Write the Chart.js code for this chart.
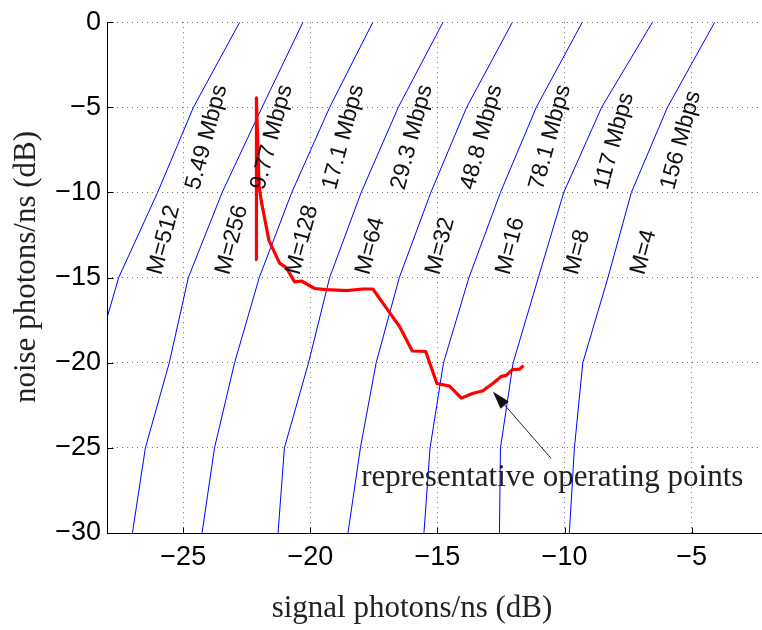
<!DOCTYPE html>
<html lang="en">
<head>
<meta charset="UTF-8">
<title>Operating points vs. signal and noise photons</title>
<script src="https://cdn.jsdelivr.net/npm/chart.js"></script>
<style>
  html, body { margin: 0; padding: 0; background: #fff; }
  #wrap { width: 762px; height: 630px; }
</style>
</head>
<body>
<div id="wrap"><canvas id="chart" width="762" height="630"></canvas></div>
<script>
// noise level (dB) at which every constant-rate curve was sampled
const curveNoise = [0, -5, -10, -15, -20, -25, -30];
// signal level (dB) along each curve, one list per PPM order
const curveM512 = [-22.78, -24.60, -26.01, -27.54, -28.51];
const curveM256 = [-20.29, -21.90, -23.47, -24.80, -25.55, -26.49, -27.00];
const curveM128 = [-17.54, -19.24, -20.73, -22.01, -22.98, -23.77, -24.26];
const curveM64  = [-14.78, -16.54, -18.00, -19.24, -20.07, -21.02, -21.27];
const curveM32  = [-12.05, -13.85, -15.26, -16.50, -17.41, -18.03, -18.52];
const curveM16  = [ -9.30, -11.11, -12.52, -13.76, -14.76, -15.29, -15.53];
const curveM8   = [ -6.54,  -8.54, -10.03, -11.03, -12.02, -12.52, -12.56];
const curveM4   = [ -4.09,  -5.95,  -7.37,  -8.29,  -9.28,  -9.61,  -9.81];
const curves = [curveM512, curveM256, curveM128, curveM64, curveM32, curveM16, curveM8, curveM4];

// representative operating points (red trace)
const opSignal = [-22.10, -22.12, -22.06, -22.02, -21.93, -21.63, -21.21, -20.94, -20.62, -20.35,
                  -19.83, -19.37, -18.58, -17.93, -17.54, -16.95, -16.49, -15.99, -15.46, -15.02,
                  -14.52, -14.06, -13.60, -13.23, -12.82, -12.48, -12.29, -12.05, -11.76, -11.61];
const opNoise  = [-13.95,  -4.45,  -7.50,  -9.56, -10.51, -12.81, -14.15, -14.43, -15.25, -15.20,
                  -15.64, -15.71, -15.77, -15.67, -15.67, -16.91, -17.87, -19.31, -19.34, -21.22,
                  -21.37, -22.08, -21.79, -21.66, -21.22, -20.80, -20.74, -20.41, -20.37, -20.17];

// curve annotations
const rateLabels  = ['5.49 Mbps', '9.77 Mbps', '17.1 Mbps', '29.3 Mbps', '48.8 Mbps', '78.1 Mbps', '117 Mbps', '156 Mbps'];
const rateAtX     = [-24.62, -22.06, -19.24, -16.55, -13.80, -11.11, -8.55, -5.93];
const rateAtY     = -9.8;
const orderLabels = ['M=512', 'M=256', 'M=128', 'M=64', 'M=32', 'M=16', 'M=8', 'M=4'];
const orderAtX    = [-26.12, -23.44, -20.68, -17.93, -15.18, -12.42, -9.73, -7.11];
const orderAtY    = -14.8;

const noteText  = 'representative operating points';
const noteAt    = [-18.0, -27.24];
const arrowFrom = [-10.53, -25.61];
const arrowTo   = [-12.82, -21.69];

const xTicks = [-25, -20, -15, -10, -5];
const yTicks = [-30, -25, -20, -15, -10, -5, 0];

const SANS = "'Liberation Sans', Arial, sans-serif";
const SERIF = "'Liberation Serif', 'Times New Roman', serif";

function minus(v) { return String(v).replace('-', '\u2212'); }

const datasets = [{
    label: 'operating points',
    data: opSignal.map((x, i) => ({ x: x, y: opNoise[i] })),
    borderColor: '#ff0000',
    borderWidth: 3.2,
    pointRadius: 0,
    borderJoinStyle: 'round'
}];
curves.forEach((xs, k) => {
    datasets.push({
        label: orderLabels[k],
        data: xs.map((x, i) => ({ x: x, y: curveNoise[i] })),
        borderColor: '#0000ff',
        borderWidth: 1,
        pointRadius: 0
    });
});

const decor = {
    id: 'decor',
    afterDatasetsDraw(chart) {
        const ctx = chart.ctx, xs = chart.scales.x, ys = chart.scales.y;
        const area = chart.chartArea;
        ctx.save();
        ctx.fillStyle = '#111';
        ctx.font = '23px ' + SANS;
        ctx.textAlign = 'left';
        ctx.textBaseline = 'middle';
        const ang = -75 * Math.PI / 180;
        const put = (txt, x, y) => {
            ctx.save();
            ctx.translate(xs.getPixelForValue(x), ys.getPixelForValue(y));
            ctx.rotate(ang);
            ctx.fillText(txt, 0, 0);
            ctx.restore();
        };
        rateLabels.forEach((t, i) => put(t, rateAtX[i], rateAtY));
        orderLabels.forEach((t, i) => put(t, orderAtX[i], orderAtY));

        // annotation + arrow
        ctx.font = '31px ' + SERIF;
        ctx.textBaseline = 'alphabetic';
        ctx.fillStyle = '#222';
        ctx.fillText(noteText, xs.getPixelForValue(noteAt[0]), ys.getPixelForValue(noteAt[1]));
        const x0 = xs.getPixelForValue(arrowFrom[0]), y0 = ys.getPixelForValue(arrowFrom[1]);
        const x1 = xs.getPixelForValue(arrowTo[0]), y1 = ys.getPixelForValue(arrowTo[1]);
        const a = Math.atan2(y1 - y0, x1 - x0);
        const hl = 18, hw = 5.5;
        const bx = x1 - hl * Math.cos(a), by = y1 - hl * Math.sin(a);
        ctx.strokeStyle = '#222';
        ctx.lineWidth = 1;
        ctx.beginPath();
        ctx.moveTo(x0, y0);
        ctx.lineTo(bx, by);
        ctx.stroke();
        ctx.beginPath();
        ctx.moveTo(x1, y1);
        ctx.lineTo(bx + hw * Math.sin(a), by - hw * Math.cos(a));
        ctx.lineTo(bx - hw * Math.sin(a), by + hw * Math.cos(a));
        ctx.closePath();
        ctx.fillStyle = '#111';
        ctx.fill();

        // axes lines with inward ticks
        ctx.strokeStyle = '#000';
        ctx.lineWidth = 1;
        const L = Math.round(area.left) + 0.5, B = Math.round(area.bottom) + 0.5;
        ctx.beginPath();
        ctx.moveTo(L, area.top);
        ctx.lineTo(L, B);
        ctx.lineTo(area.right, B);
        xTicks.forEach(v => {
            const p = Math.round(xs.getPixelForValue(v)) + 0.5;
            ctx.moveTo(p, B);
            ctx.lineTo(p, B - 6);
        });
        yTicks.forEach(v => {
            const p = Math.round(ys.getPixelForValue(v)) + 0.5;
            ctx.moveTo(L, p);
            ctx.lineTo(L + 6, p);
        });
        ctx.stroke();

        // axis titles
        ctx.fillStyle = '#222';
        ctx.font = '31px ' + SERIF;
        ctx.textAlign = 'center';
        ctx.textBaseline = 'alphabetic';
        ctx.fillText('signal photons/ns (dB)', 412, 617);
        ctx.save();
        ctx.translate(35, 267);
        ctx.rotate(-Math.PI / 2);
        ctx.fillText('noise photons/ns (dB)', 0, 0);
        ctx.restore();
        ctx.restore();
    }
};

new Chart(document.getElementById('chart'), {
    type: 'line',
    data: { datasets: datasets },
    options: {
        responsive: false,
        animation: false,
        parsing: false,
        layout: { padding: { top: 10, right: 0, bottom: 0, left: 0 } },
        plugins: { legend: { display: false }, tooltip: { enabled: false } },
        elements: { line: { tension: 0 } },
        scales: {
            x: {
                type: 'linear',
                min: -28,
                max: -2.23,
                afterBuildTicks: s => { s.ticks = xTicks.map(v => ({ value: v })); },
                afterFit: s => { s.height = 97; },
                ticks: { color: '#000', font: { size: 27, family: SANS }, padding: 8, callback: minus },
                grid: { color: 'rgba(0,0,0,0.55)', drawTicks: false, lineWidth: 1 },
                border: { display: false, dash: [1, 4] }
            },
            y: {
                type: 'linear',
                min: -30,
                max: 0,
                afterBuildTicks: s => { s.ticks = yTicks.map(v => ({ value: v })); },
                afterFit: s => { s.width = 107; },
                ticks: { color: '#000', font: { size: 27, family: SANS }, padding: 6, callback: minus },
                grid: { color: 'rgba(0,0,0,0.55)', drawTicks: false, lineWidth: 1 },
                border: { display: false, dash: [1, 4] }
            }
        }
    },
    plugins: [decor]
});
</script>
</body>
</html>
